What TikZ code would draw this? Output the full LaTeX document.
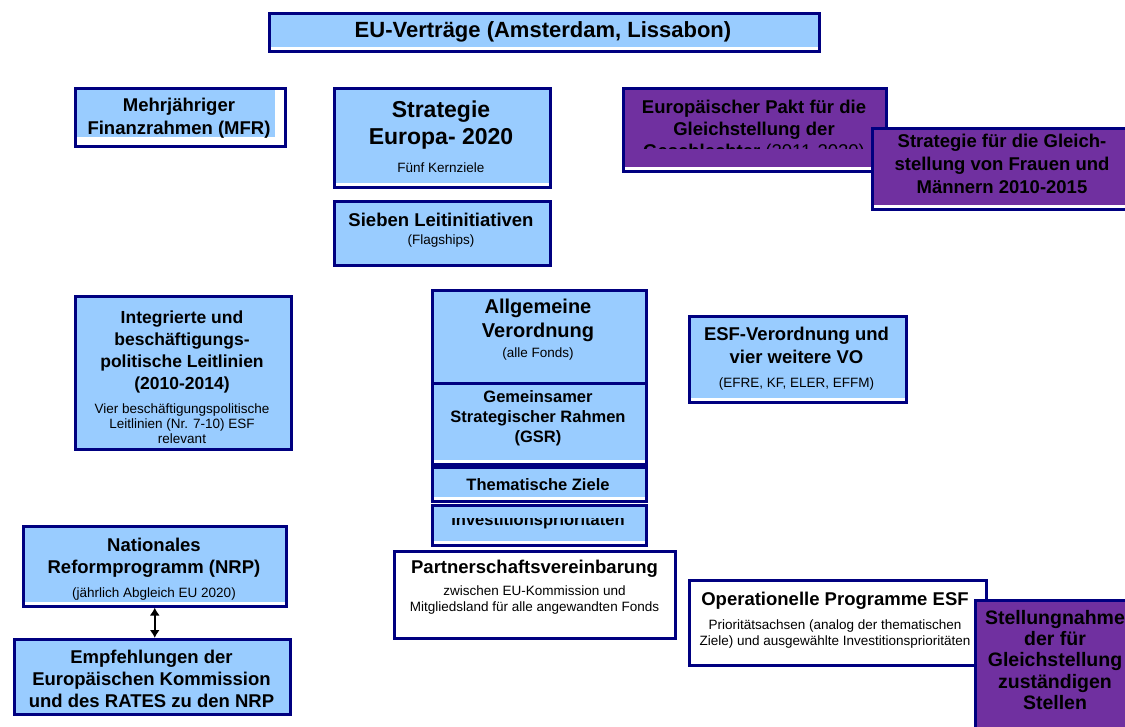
\documentclass[tikz,border=0pt]{standalone}
\usepackage{fontspec}
\setmainfont{Liberation Sans}
\usetikzlibrary{arrows.meta}
\definecolor{lb}{HTML}{99CCFF}
\definecolor{nv}{HTML}{000080}
\definecolor{pu}{HTML}{7030A0}
\newcommand\fb[2]{\fontsize{#1}{#2}\selectfont\bfseries}
\newcommand\fr[2]{\fontsize{#1}{#2}\selectfont}
\tikzset{
  bxs/.style={draw=nv, line width=2.5pt, fill=white, inner sep=0pt, anchor=north west,
    path picture={\fill[#1] (path picture bounding box.north west) rectangle ([yshift=4.5pt]path picture bounding box.south east);}},
  bxm/.style={draw=nv, line width=2.5pt, fill=white, inner sep=0pt, anchor=north west,
    path picture={\fill[#1] (path picture bounding box.north west) rectangle ([xshift=-10pt,yshift=9pt]path picture bounding box.south east);}},
  bxf/.style={draw=nv, line width=2.5pt, fill=#1, inner sep=0pt, anchor=north west},
  tx/.style={inner sep=0pt, align=center, text=black},
  dbl/.style={{Latex[length=8pt,width=10pt]}-{Latex[length=8pt,width=10pt]}, line width=2pt}
}
\begin{document}
\begin{tikzpicture}[x=1pt,y=-1pt]
\useasboundingbox (0,0) rectangle (1125,726);
\clip (0,0) rectangle (1125,726);
% title
\node[bxs=lb, minimum width=550pt, minimum height=38pt] (eu) at (268,12) {};
\node[tx, font=\fb{22}{26}, anchor=center] (euT) at (543,32) {EU-Verträge (Amsterdam, Lissabon)};
% MFR
\node[bxm=lb, minimum width=210pt, minimum height=58pt] (mfr) at (74,87) {};
\node[tx, font=\fb{18.5}{22.5}] (mfrT) at (179,118) {Mehrjähriger\\Finanzrahmen (MFR)};
% Strategie Europa 2020
\node[bxs=lb, minimum width=216pt, minimum height=99pt] (str) at (333,87) {};
\node[tx, font=\fb{23}{27}] (strT) at (441,125.5) {Strategie\\Europa- 2020};
\node[tx, font=\fr{13.5}{16}, anchor=base] (strS) at (441,172) {Fünf Kernziele};
% Sieben Leitinitiativen
\node[bxf=lb, minimum width=216pt, minimum height=64pt] (sieb) at (333,200) {};
\node[tx, font=\fb{18.5}{22}, anchor=base] (siebT) at (441,226) {Sieben Leitinitiativen};
\node[tx, font=\fr{13.5}{16}, anchor=base] (siebS) at (441,244) {(Flagships)};
% Pakt
\node[bxs=pu, minimum width=263pt, minimum height=83pt] (pakt) at (622,87) {};
\begin{scope}
\clip (622,87) rectangle (885,148);
\node[tx, font=\fb{18.5}{22}] (paktT) at (754,130.7) {Europäischer Pakt für die\\Gleichstellung der\\Geschlechter {\mdseries (2011-2020)}};
\end{scope}
% Strategie Gleichstellung
\node[bxs=pu, minimum width=260pt, minimum height=81pt] (gl) at (871,127) {};
\node[tx, font=\fb{18.5}{23}] (glT) at (1002,164.3) {Strategie für die Gleich-\\stellung von Frauen und\\Männern 2010-2015};
% Integrierte Leitlinien
\node[bxf=lb, minimum width=216pt, minimum height=153pt] (int) at (74,295) {};
\node[tx, font=\fb{17.5}{22.3}] (intT) at (182,352) {Integrierte und\\beschäftigungs-\\politische Leitlinien\\(2010-2014)};
\node[tx, font=\fr{13.5}{15.3}] (intS) at (182,423.5) {Vier beschäftigungspolitische\\Leitlinien (Nr. 7-10) ESF\\relevant};
% Allgemeine Verordnung
\node[bxf=lb, minimum width=214pt, minimum height=93pt] (allg) at (431,289) {};
\node[tx, font=\fb{20}{24}] (allgT) at (538,320.5) {Allgemeine\\Verordnung};
\node[tx, font=\fr{13.5}{16}, anchor=base] (allgS) at (538,357) {(alle Fonds)};
% GSR
\node[bxs=lb, minimum width=214pt, minimum height=81pt] (gsr) at (431,382) {};
\node[tx, font=\fb{16.5}{20}] (gsrT) at (538,418) {Gemeinsamer\\Strategischer Rahmen\\(GSR)};
% Thematische Ziele
\node[bxs=lb, minimum width=214pt, minimum height=34pt] (them) at (431,466) {};
\node[tx, font=\fb{16.5}{20}, anchor=base] (themT) at (538,490) {Thematische Ziele};
% Investitionsprioritaeten
\node[bxs=lb, minimum width=214pt, minimum height=40pt] (inv) at (431,504) {};
\begin{scope}
\clip (431,518) rectangle (645,544);
\node[tx, font=\fb{16.5}{20}, anchor=base] (invT) at (538,525) {Investitionsprioritäten};
\end{scope}
% ESF-Verordnung
\node[bxs=lb, minimum width=217pt, minimum height=86pt] (esf) at (688,315) {};
\node[tx, font=\fb{18.5}{23}] (esfT) at (796.5,345.5) {ESF-Verordnung und\\vier weitere VO};
\node[tx, font=\fr{13.5}{16}, anchor=base] (esfS) at (796.5,387) {(EFRE, KF, ELER, EFFM)};
% NRP
\node[bxs=lb, minimum width=263pt, minimum height=80pt] (nrp) at (22,525) {};
\node[tx, font=\fb{18.5}{22}] (nrpT) at (154,558) {Nationales\\Reformprogramm (NRP)};
\node[tx, font=\fr{13.5}{16}, anchor=base] (nrpS) at (154,597) {(jährlich Abgleich EU 2020)};
% Empfehlungen
\node[bxf=lb, minimum width=276pt, minimum height=75pt] (empf) at (13,638) {};
\node[tx, font=\fb{18.5}{22}] (empfT) at (151.5,679) {Empfehlungen der\\Europäischen Kommission\\und des RATES zu den NRP};
\draw[dbl] (nrp.south) -- (nrp.south |- empf.north);
% Partnerschaftsvereinbarung
\node[bxf=white, minimum width=281pt, minimum height=87pt] (pv) at (393,550) {};
\node[tx, font=\fb{18.5}{22}, anchor=base] (pvT) at (534.5,573) {Partnerschaftsvereinbarung};
\node[tx, font=\fr{13.5}{16.5}] (pvS) at (534.5,600) {zwischen EU-Kommission und\\Mitgliedsland für alle angewandten Fonds};
% Operationelle Programme
\node[bxf=white, minimum width=297pt, minimum height=85pt] (op) at (688,579) {};
\node[tx, font=\fb{18.5}{22}, anchor=base] (opT) at (835,605) {Operationelle Programme ESF};
\node[tx, font=\fr{13.5}{16}] (opS) at (835,634) {Prioritätsachsen (analog der thematischen\\Ziele) und ausgewählte Investitionsprioritäten};
% Stellungnahme
\node[bxf=pu, minimum width=160pt, minimum height=135pt] (st) at (974,599) {};
\node[tx, font=\fb{19.5}{21.3}] (stT) at (1055,660) {Stellungnahme\\der für\\Gleichstellung\\zuständigen\\Stellen};
\end{tikzpicture}
\end{document}
